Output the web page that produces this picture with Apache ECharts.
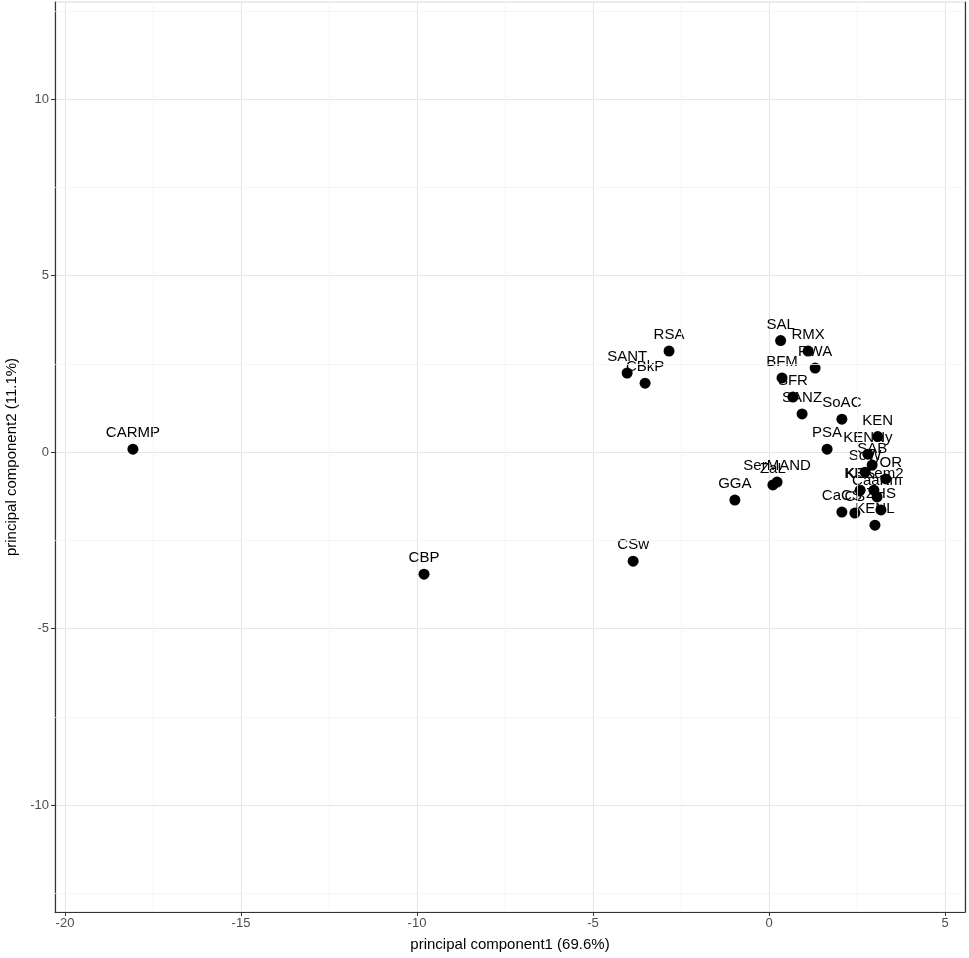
<!DOCTYPE html>
<html><head><meta charset="utf-8">
<script src="https://cdn.jsdelivr.net/npm/echarts@6/dist/echarts.min.js"></script>
<style>html,body{margin:0;padding:0;background:#fff}#c{width:969px;height:958px}</style>
</head><body><div id="c"></div>
<script>
const names = ['CARMP','CBP','CSw','GGA','SANT','CBkP','RSA','SAL','RMX','RWA','BFM','SFR','SANZ','SoAC','PSA','SerMAND','ZaL',
  'KEN','KENNy','SAB','SoW','VOR','KES','KEKem2','CaaKm','ZHS','CaCS','CB','KENL'];
const pc1 = [-18.07,-9.80,-3.86,-0.97,-4.03,-3.52,-2.84,0.33,1.11,1.31,0.37,0.68,0.94,2.07,1.65,0.23,0.11,
  3.09,2.81,2.93,2.73,3.32,2.59,2.98,3.07,3.18,2.07,2.44,3.01];
const pc2 = [0.08,-3.46,-3.09,-1.36,2.24,1.95,2.86,3.16,2.86,2.38,2.10,1.56,1.08,0.93,0.08,-0.85,-0.93,
  0.44,-0.06,-0.37,-0.57,-0.76,-1.08,-1.08,-1.27,-1.64,-1.70,-1.73,-2.07];
const xTicks = [-20,-15,-10,-5,0,5];
const yTicks = [-10,-5,0,5,10];
const xMinor = [-17.5,-12.5,-7.5,-2.5,2.5];
const yMinor = [-12.5,-7.5,-2.5,2.5,7.5,12.5];

const chart = echarts.init(document.getElementById('c'), null, {renderer:'canvas'});
const points = names.map((n,i)=>({name:n, value:[pc1[i], pc2[i]]}));
const minorLines = xMinor.map(v=>({xAxis:v})).concat(yMinor.map(v=>({yAxis:v})));
const tickLabel = {color:'#4d4d4d', fontSize:13, fontFamily:'Liberation Sans'};
chart.setOption({
  animation:false,
  backgroundColor:'#fff',
  grid:{left:55,right:4,top:2,bottom:46,containLabel:false,outerBoundsMode:'none',show:true,borderColor:'#d9d9d9',borderWidth:1,backgroundColor:'#fff'},
  xAxis:[{
    type:'value', min:-20.284, max:5.568,
    name:'principal component1 (69.6%)', nameLocation:'middle', nameGap:25,
    nameTextStyle:{color:'#000', fontSize:15, fontFamily:'Liberation Sans'},
    axisLine:{show:true,onZero:false,lineStyle:{color:'#333',width:1.2}},
    axisTick:{show:true,length:4,customValues:xTicks,lineStyle:{color:'#333'}},
    axisLabel:{...tickLabel, margin:5, customValues:xTicks},
    splitLine:{show:true,lineStyle:{color:'#e6e6e6',width:1.2}}
  }],
  yAxis:[{
    type:'value', min:-13.03, max:12.75,
    name:'principal component2 (11.1%)', nameLocation:'middle', nameGap:34,
    nameTextStyle:{color:'#000', fontSize:15, fontFamily:'Liberation Sans'},
    axisLine:{show:true,onZero:false,lineStyle:{color:'#333',width:1.2}},
    axisTick:{show:true,length:4,customValues:yTicks,lineStyle:{color:'#333'}},
    axisLabel:{...tickLabel, margin:6, customValues:yTicks},
    splitLine:{show:true,lineStyle:{color:'#e6e6e6',width:1.2}}
  },{
    type:'value', position:'right', min:0, max:1,
    axisLine:{show:true,onZero:false,lineStyle:{color:'#333',width:1.2}},
    axisTick:{show:false}, axisLabel:{show:false}, splitLine:{show:false}
  }],
  series:[{
    type:'line', data:[], z:1, silent:true,
    markLine:{silent:true, symbol:['none','none'], label:{show:false},
      lineStyle:{color:'#f2f2f2', width:0.8, type:'solid'}, data:minorLines}
  },{
    type:'scatter', data:points, symbol:'circle', symbolSize:11, z:3,
    itemStyle:{color:'#000', opacity:1},
    emphasis:{disabled:true},
    label:{show:true, position:'top', distance:3, formatter:'{b}', color:'#000', opacity:1, fontSize:15, fontFamily:'Liberation Sans'}
  }]
});
</script></body></html>
